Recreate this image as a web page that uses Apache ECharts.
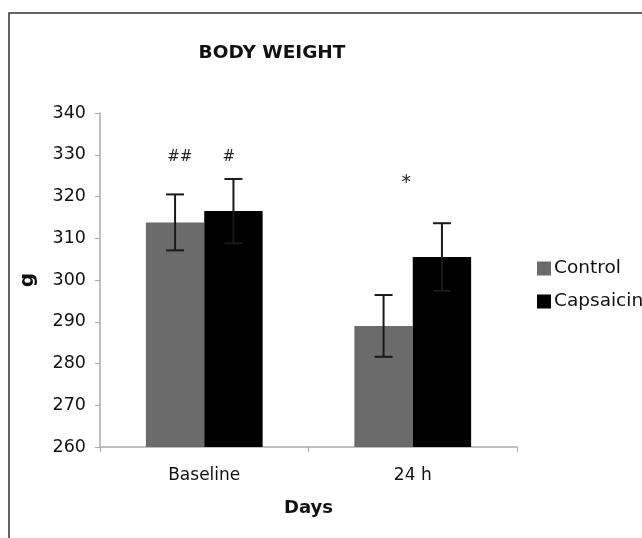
<!DOCTYPE html>
<html><head><meta charset="utf-8">
<script src="https://cdn.jsdelivr.net/npm/echarts@6/dist/echarts.min.js"></script>
<style>html,body{margin:0;padding:0;background:#fff}#c{width:642px;height:538px}</style>
</head><body><div id="c"></div>
<script>
var categories = ['Baseline', '24 h'];
var seriesNames = ['Control', 'Capsaicin'];
var controlValues = [313.8, 289.0];
var controlErrors = [6.7, 7.4];
var capsaicinValues = [316.5, 305.5];
var capsaicinErrors = [7.7, 8.1];
var annotations = [
  {cat: 0, value: 329.5, text: '##', bar: 0.08, size: 15},
  {cat: 0, value: 329.5, text: '#', bar: 0.92, size: 15},
  {cat: 1, value: 323.3, text: '*', bar: 0.39, size: 19}
];
var yTicks = [260, 270, 280, 290, 300, 310, 320, 330, 340];

var FONT = 'DejaVu Sans';
var chart = echarts.init(document.getElementById('c'));

function errSeries(values, errors, idx) {
  return {
    type: 'custom', name: seriesNames[idx] + ' err', z: 10, silent: true,
    data: values.map(function (v, i) { return [i, v, errors[i]]; }),
    renderItem: function (params, api) {
      var cat = api.value(0), v = api.value(1), e = api.value(2);
      var bw = api.size([1, 0])[0] * 0.56 / 2;
      var cx = api.coord([cat, v])[0] + (idx === 0 ? -bw / 2 : bw / 2);
      var top = api.coord([cat, v + e])[1];
      var bot = api.coord([cat, v - e])[1];
      var cap = 9;
      var st = {stroke: '#1a1a1a', lineWidth: 2};
      return {type: 'group', children: [
        {type: 'line', shape: {x1: cx, y1: top, x2: cx, y2: bot}, style: st},
        {type: 'line', shape: {x1: cx - cap, y1: top, x2: cx + cap, y2: top}, style: st},
        {type: 'line', shape: {x1: cx - cap, y1: bot, x2: cx + cap, y2: bot}, style: st}
      ]};
    }
  };
}

chart.setOption({
  animation: false,
  backgroundColor: '#fff',
  title: {text: 'BODY WEIGHT', left: 272, top: 44, textAlign: 'center', padding: 0,
    textStyle: {fontFamily: FONT, fontSize: 18.5, fontWeight: 'bold', color: '#111'}},
  legend: {orient: 'vertical', left: 537, top: 259, itemWidth: 14, itemHeight: 14, itemGap: 14,
    padding: 0, icon: 'rect', data: seriesNames,
    textStyle: {fontFamily: FONT, fontSize: 18.5, color: '#111', padding: [0, 0, 0, -2]}},
  grid: {left: 100, right: 125, top: 113, bottom: 91},
  xAxis: {type: 'category', data: categories,
    name: 'Days', nameLocation: 'middle', nameGap: 52,
    nameTextStyle: {fontFamily: FONT, fontSize: 18, fontWeight: 'bold', color: '#111'},
    axisLine: {lineStyle: {color: '#aaa', width: 1.5}},
    axisTick: {show: true, length: 5, lineStyle: {color: '#aaa'}},
    axisLabel: {fontFamily: FONT, fontSize: 17, color: '#111', margin: 20}},
  yAxis: {type: 'value', min: 260, max: 340, interval: 10,
    name: 'g', nameLocation: 'middle', nameGap: 62, nameRotate: 90,
    nameTextStyle: {fontFamily: FONT, fontSize: 20, fontWeight: 'bold', color: '#111'},
    axisLine: {show: true, lineStyle: {color: '#aaa', width: 1.5}},
    axisTick: {show: true, length: 5, lineStyle: {color: '#aaa'}},
    splitLine: {show: false},
    axisLabel: {fontFamily: FONT, fontSize: 17.5, color: '#111', margin: 14,
      formatter: function (v) { return yTicks.indexOf(v) >= 0 ? String(v) : ''; }}},
  series: [
    {type: 'bar', name: seriesNames[0], data: controlValues, barWidth: '28%', barGap: '0%',
      itemStyle: {color: '#6b6b6b'}},
    {type: 'bar', name: seriesNames[1], data: capsaicinValues, barWidth: '28%', barGap: '0%',
      itemStyle: {color: '#000'}},
    errSeries(controlValues, controlErrors, 0),
    errSeries(capsaicinValues, capsaicinErrors, 1),
    {type: 'custom', name: 'annot', z: 11, silent: true,
      data: annotations.map(function (a) { return [a.cat, a.value, a.bar]; }),
      renderItem: function (params, api) {
        var a = annotations[params.dataIndex];
        var bw = api.size([1, 0])[0] * 0.56 / 2;
        var p = api.coord([api.value(0), api.value(1)]);
        var x = p[0] - bw / 2 + api.value(2) * bw;
        return {type: 'text', x: x, y: p[1], style: {text: a.text, fill: '#222',
          font: a.size + 'px "DejaVu Sans"', textAlign: 'center', textVerticalAlign: 'middle'}};
      }}
  ],
  graphic: [{type: 'rect', shape: {x: 9, y: 13, width: 700, height: 600},
    style: {fill: 'none', stroke: '#333', lineWidth: 1.5}, z: 100, silent: true}]
});
</script></body></html>
